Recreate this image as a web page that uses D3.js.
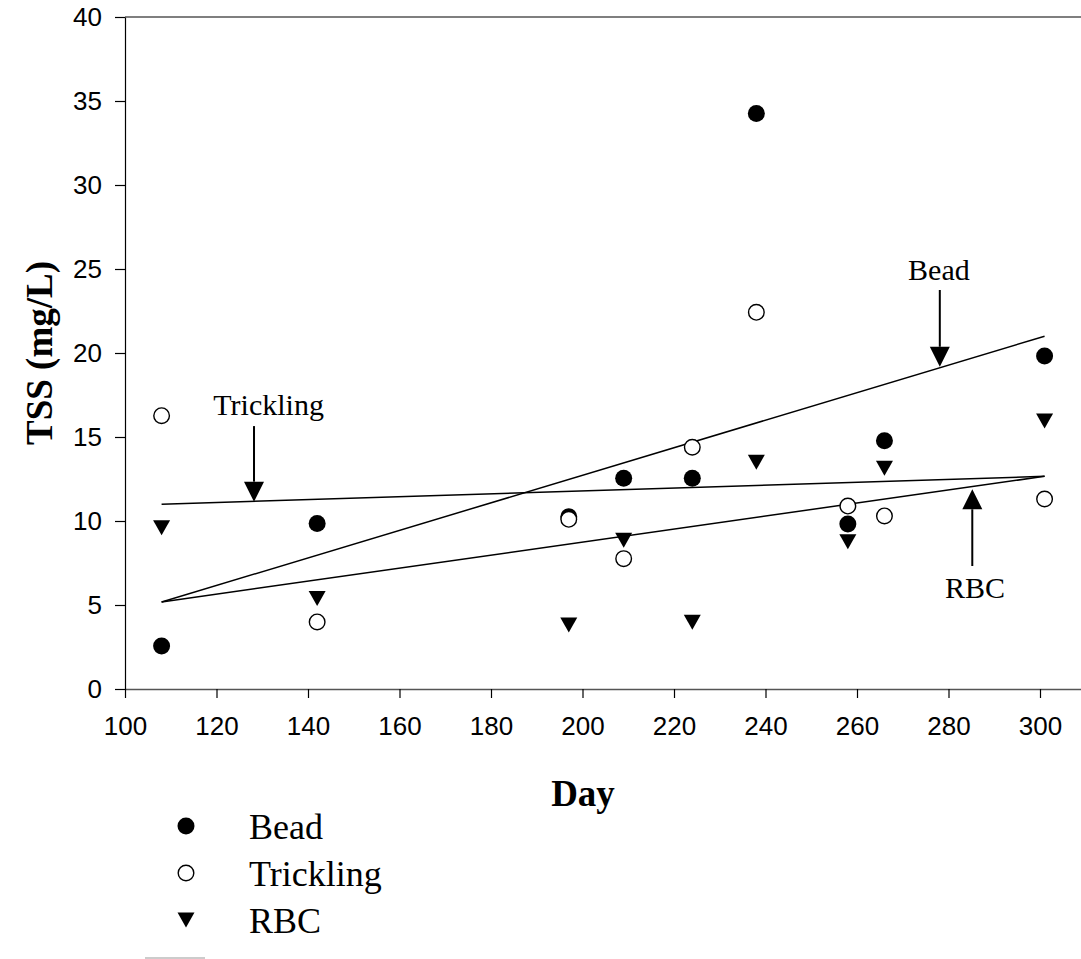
<!DOCTYPE html>
<html>
<head>
<meta charset="utf-8">
<script src="https://cdn.jsdelivr.net/npm/d3@7"></script>
<style>
  html, body { margin: 0; padding: 0; background: #fff; }
  svg { display: block; }
</style>
</head>
<body>
<div id="chart"></div>
<script>
// sampling days
const days = [108, 142, 197, 209, 224, 238, 258, 266, 301];

// TSS (mg/L) per reactor
const bead      = [2.56, 9.85, 10.25, 12.55, 12.55, 34.25, 9.82, 14.78, 19.82];
const trickling = [16.27, 3.99, 10.1, 7.76, 14.39, 22.42, 10.89, 10.3, 11.31];
const rbc       = [9.6, 5.38, 3.81, 8.85, 3.98, 13.5, 8.77, 13.14, 15.95];

// fitted trend lines, [day, value] at each end
const beadFit      = [[108, 5.18], [301, 21.0]];
const tricklingFit = [[108, 11.0], [301, 12.66]];
const rbcFit       = [[108, 5.18], [301, 12.66]];

// arrow callouts: day, tip value, tail value, label and label anchor (day, value)
const callouts = [
  { label: 'Trickling', day: 128.2, tip: 11.15, tail: 15.65, lx: 131.4, ly: 16.3 },
  { label: 'Bead',      day: 278.1, tip: 19.18, tail: 23.75, lx: 277.9, ly: 24.35 },
  { label: 'RBC',       day: 285.2, tip: 11.89, tail: 7.32,  lx: 285.8, ly: 5.43 }
];

const xTicks = d3.range(100, 301, 20);
const yTicks = d3.range(0, 41, 5);

const W = 1081, H = 959;
const sans = 'Arial, "Liberation Sans", Helvetica, sans-serif';
const serif = '"Times New Roman", "Liberation Serif", serif';

const svg = d3.select('#chart').append('svg')
  .attr('width', W)
  .attr('height', H);

const x = d3.scaleLinear().domain([100, 310]).range([125, 1085.75]);
const y = d3.scaleLinear().domain([0, 40]).range([689, 17]);

// top frame line
svg.append('line')
  .attr('x1', x(100)).attr('x2', W)
  .attr('y1', y(40)).attr('y2', y(40))
  .attr('stroke', '#555').attr('stroke-width', 1.5);

// axes
const xAxis = svg.append('g')
  .attr('transform', `translate(0,${y(0)})`)
  .call(d3.axisBottom(x).tickValues(xTicks).tickSize(9).tickSizeOuter(0).tickPadding(19));
xAxis.select('.domain').attr('stroke', '#555').attr('stroke-width', 1.5);

const yAxis = svg.append('g')
  .attr('transform', `translate(${x(100)},0)`)
  .call(d3.axisLeft(y).tickValues(yTicks).tickSize(10).tickSizeOuter(0).tickPadding(13));
yAxis.select('.domain').attr('stroke', '#000').attr('stroke-width', 1.2);

svg.selectAll('.tick line').attr('stroke', '#000').attr('stroke-width', 1.2);
svg.selectAll('.tick text')
  .attr('font-family', sans)
  .attr('font-size', '26px')
  .attr('fill', '#000');

// axis titles
svg.append('text')
  .attr('x', 583).attr('y', 806)
  .attr('text-anchor', 'middle')
  .attr('font-family', serif).attr('font-weight', 'bold').attr('font-size', '37px')
  .text('Day');

svg.append('text')
  .attr('transform', 'translate(52,353) rotate(-90)')
  .attr('text-anchor', 'middle')
  .attr('font-family', serif).attr('font-weight', 'bold').attr('font-size', '37px')
  .text('TSS (mg/L)');

// trend lines
const line = d3.line().x(d => x(d[0])).y(d => y(d[1]));
[beadFit, tricklingFit, rbcFit].forEach(fit => {
  svg.append('path')
    .attr('d', line(fit))
    .attr('fill', 'none')
    .attr('stroke', '#000')
    .attr('stroke-width', 1.5);
});

// down-pointing triangle, centred on its bounding box
const triDown = 'M-8.5,-7.5L8.5,-7.5L0,7.5Z';

const pts = svg.append('g');
pts.selectAll('path.rbc')
  .data(days.map((d, i) => [d, rbc[i]]))
  .enter().append('path')
  .attr('class', 'rbc')
  .attr('d', triDown)
  .attr('transform', d => `translate(${x(d[0])},${y(d[1])})`)
  .attr('fill', '#000');

pts.selectAll('circle.bead')
  .data(days.map((d, i) => [d, bead[i]]))
  .enter().append('circle')
  .attr('class', 'bead')
  .attr('cx', d => x(d[0])).attr('cy', d => y(d[1]))
  .attr('r', 8.5)
  .attr('fill', '#000');

pts.selectAll('circle.trickling')
  .data(days.map((d, i) => [d, trickling[i]]))
  .enter().append('circle')
  .attr('class', 'trickling')
  .attr('cx', d => x(d[0])).attr('cy', d => y(d[1]))
  .attr('r', 7.8)
  .attr('fill', '#fff')
  .attr('stroke', '#000')
  .attr('stroke-width', 1.4);

// callout arrows
const head = 20;
callouts.forEach(c => {
  const cx = x(c.day), ty = y(c.tip), ly = y(c.tail);
  const dir = ly < ty ? 1 : -1; // 1 = pointing down
  const base = ty - dir * head;
  svg.append('line')
    .attr('x1', cx).attr('x2', cx)
    .attr('y1', ly).attr('y2', base)
    .attr('stroke', '#000').attr('stroke-width', 2);
  svg.append('path')
    .attr('d', `M${cx - head / 2},${base}L${cx + head / 2},${base}L${cx},${ty}Z`)
    .attr('fill', '#000');
  svg.append('text')
    .attr('x', x(c.lx)).attr('y', y(c.ly))
    .attr('text-anchor', 'middle')
    .attr('font-family', serif).attr('font-size', '30px')
    .text(c.label);
});

// legend
const legendItems = ['Bead', 'Trickling', 'RBC'];
const legend = svg.append('g').attr('transform', 'translate(186,826)');
legendItems.forEach((name, i) => {
  const g = legend.append('g').attr('transform', `translate(0,${i * 47})`);
  if (name === 'Bead') {
    g.append('circle').attr('r', 8.5).attr('fill', '#000');
  } else if (name === 'Trickling') {
    g.append('circle').attr('r', 7.8).attr('fill', '#fff').attr('stroke', '#000').attr('stroke-width', 1.4);
  } else {
    g.append('path').attr('d', triDown).attr('fill', '#000');
  }
  g.append('text')
    .attr('x', 63).attr('y', 13)
    .attr('font-family', serif).attr('font-size', '36px')
    .text(name);
});

svg.append('line')
  .attr('x1', 145).attr('x2', 205)
  .attr('y1', 958).attr('y2', 958)
  .attr('stroke', '#bbb').attr('stroke-width', 1.5);
</script>
</body>
</html>
